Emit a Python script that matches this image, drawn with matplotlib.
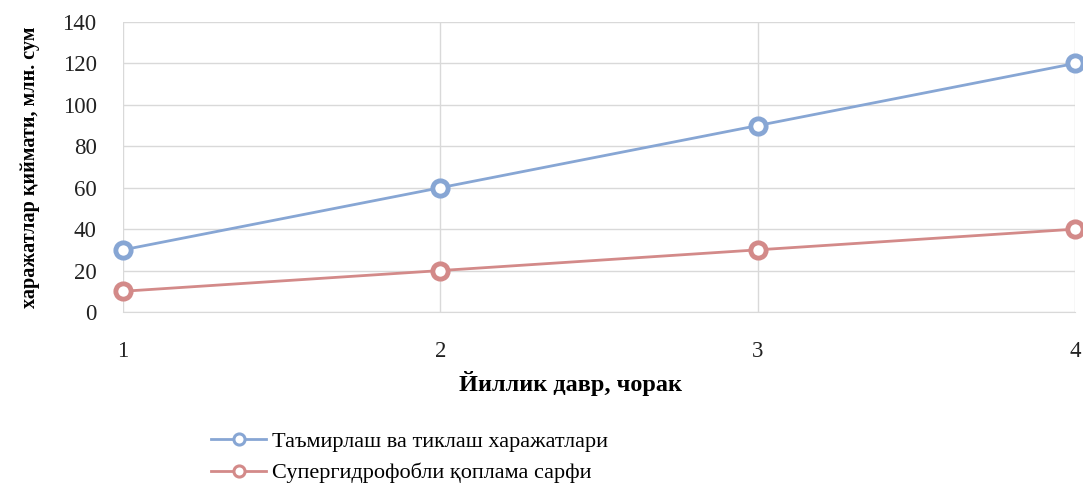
import matplotlib
matplotlib.use("Agg")
import matplotlib.pyplot as plt

quarters = [1, 2, 3, 4]
repair_costs = [30, 60, 90, 120]
coating_costs = [10, 20, 30, 40]
y_ticks = [0, 20, 40, 60, 80, 100, 120, 140]

blue = '#87a6d4'
red = '#d38a89'

plt.rcParams['font.family'] = ['Liberation Serif', 'DejaVu Serif']

fig = plt.figure(figsize=(10.83, 4.84), dpi=100)
ax = fig.add_axes([0.1136, 0.3554, 0.8790, 0.5991])

marker_style = dict(marker='o', markersize=11, markerfacecolor='white',
                    markeredgewidth=3.5, linewidth=2, clip_on=False, zorder=3)
ax.plot(quarters, repair_costs, color=blue, markeredgecolor=blue,
        label='Таъмирлаш ва тиклаш харажатлари', **marker_style)
ax.plot(quarters, coating_costs, color=red, markeredgecolor=red,
        label='Супергидрофобли қоплама сарфи', **marker_style)

ax.set_xlim(1, 4)
ax.set_ylim(0, 140)
ax.set_xticks(quarters)
ax.set_yticks(y_ticks)
ax.tick_params(length=0, labelsize=16.5, colors='#222222')
ax.tick_params(axis='x', pad=21)
ax.tick_params(axis='y', pad=19)

ax.grid(True, color='#d9d9d9', linewidth=1)
ax.set_axisbelow(True)
for side in ['top', 'right', 'left']:
    ax.spines[side].set_visible(False)
ax.spines['bottom'].set_color('#d9d9d9')

ax.set_xlabel('Йиллик давр, чорак', fontsize=17.5, fontweight='bold')
ax.xaxis.set_label_coords(0.47, -0.245)
ax.xaxis.label.set_va('center')
ax.set_ylabel('харажатлар қиймати, млн. сум', fontsize=14.5, fontweight='bold')
ax.yaxis.set_label_coords(-0.098, 0.5)
ax.yaxis.label.set_va('center')

leg = ax.legend(loc='upper left', bbox_to_anchor=(0.083, -0.38), frameon=False,
                fontsize=16, handlelength=2.5, handletextpad=0.25,
                labelspacing=0.5, borderaxespad=0)
for h in leg.legend_handles:
    h.set_markersize(8)
    h.set_markeredgewidth(2.2)

fig.savefig('out.png', dpi=100)
